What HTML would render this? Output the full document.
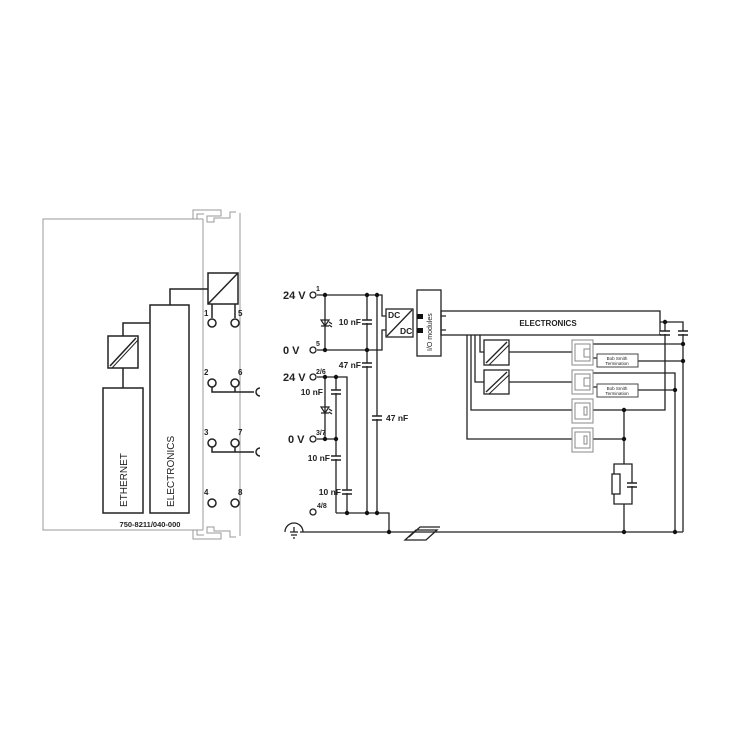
<!DOCTYPE html>
<html><head><meta charset="utf-8"><style>
html,body{margin:0;padding:0;background:#fff;}
svg{display:block;font-family:"Liberation Sans",sans-serif;}
.t{font-weight:bold;fill:#222;}
</style></head><body>
<svg width="750" height="750" viewBox="0 0 750 750" xmlns="http://www.w3.org/2000/svg">
<g fill="none" stroke="#999" stroke-width="1">
<path d="M203 219 H43 V530 H203"/>
<path d="M203 219 V530 M240 213 V536"/>
<path d="M193 219 V210 H221 V216 H207 V222 M197 219 V214 H204"/>
<path d="M207 216 V222 H214 V218 H230 V212 H236"/>
<path d="M193 530 V539 H221 V533 H207 V527 M197 530 V535 H204"/>
<path d="M207 533 V527 H214 V531 H230 V537 H236"/>
</g>
<g fill="none" stroke="#222" stroke-width="1.5">
<rect x="208" y="273" width="30" height="31"/>
<line x1="208" y1="304" x2="238" y2="273"/>
<rect x="150" y="305" width="39" height="208"/>
<rect x="103" y="388" width="40" height="125"/>
<rect x="108" y="336" width="30" height="32"/>
<line x1="110" y1="366" x2="136" y2="338"/><line x1="112" y1="368" x2="138" y2="340" stroke-width="1"/>
<path d="M123 368 V388 M123 336 V323 H150 M170 305 V289 H208 M212 304 V318 M235 304 V318"/>
<circle cx="212" cy="323" r="4"/><circle cx="235" cy="323" r="4"/>
<circle cx="212" cy="383" r="4"/><circle cx="235" cy="383" r="4"/>
<circle cx="212" cy="443" r="4"/><circle cx="235" cy="443" r="4"/>
<circle cx="212" cy="503" r="4"/><circle cx="235" cy="503" r="4"/>
<path d="M212 387 V392 H254 M235 387 V392 M212 447 V452 H254 M235 447 V452"/>
<path d="M260 388 A4 4 0 0 0 260 396 M260 448 A4 4 0 0 0 260 456"/>
</g>
<g class="t" font-size="8">
<text x="204" y="316">1</text><text x="238" y="316">5</text>
<text x="204" y="375">2</text><text x="238" y="375">6</text>
<text x="204" y="435">3</text><text x="238" y="435">7</text>
<text x="204" y="495">4</text><text x="238" y="495">8</text>
<text x="150" y="527" text-anchor="middle" font-size="7.5">750-8211/040-000</text>
<text transform="translate(127,507) rotate(-90)" font-size="10" font-weight="normal">ETHERNET</text>
<text transform="translate(174,507) rotate(-90)" font-size="10" font-weight="normal">ELECTRONICS</text>
</g>

<g fill="none" stroke="#222" stroke-width="1.3">
<path d="M317 295 H382 V316 H386 M317 350 H382 V330 H386"/>
<path d="M325 295 V350 M367 295 V513 M377 295 V513"/>
<path d="M317 377 H347 V513 M325 377 V439 M317 439 H336 M336 377 V513 M336 513 H389 V532"/>
<path d="M300 532 H683"/>
<rect x="386" y="309" width="27" height="28"/>
<line x1="387" y1="336" x2="412" y2="310"/>
<rect x="417" y="290" width="24" height="66"/>
<rect x="441" y="311" width="219" height="24"/>
<path d="M441 316 H446 M441 330 H446"/>
<circle cx="313" cy="295" r="3"/><circle cx="313" cy="350" r="3"/>
<circle cx="313" cy="377" r="3"/><circle cx="313" cy="439" r="3"/>
<circle cx="313" cy="512" r="3"/>
<path d="M285 532 A9 9 0 0 1 303 532 M290 532 H298 M291 535 H297 M293 538 H295 M294 527 V532"/>
<path d="M405 540 L416 530 H437 L426 540 Z M409 537 L420 527 H440"/>
<path d="M480 335 V352 H484 M475 335 V382 H484 M471 335 V410 H572 M467 335 V439 H572"/>
<path d="M509 352 H572 M509 382 H572"/>
<path d="M593 344 H683 M638 361 H683 M593 373 H675 V532 M638 390 H675"/>
<path d="M593 410 H665 V322 M660 322 H683 V532"/>
<path d="M593 439 H624 M624 410 V464 M614 464 H632 V504 H614 Z M624 504 V532"/>
<path d="M593 358 H597 M593 387 H597"/>
</g>
<g fill="none" stroke="#222" stroke-width="1.3">
<rect x="484" y="340" width="25" height="25"/><line x1="486" y1="363" x2="507" y2="342"/><line x1="489" y1="365" x2="509" y2="345" stroke-width="1"/>
<rect x="484" y="370" width="25" height="24"/><line x1="486" y1="392" x2="507" y2="372"/><line x1="489" y1="394" x2="509" y2="375" stroke-width="1"/>
<rect x="612" y="474" width="8" height="20" fill="#fff"/>
</g>
<g fill="#fff" stroke="#888" stroke-width="1">
<rect x="572" y="340" width="21" height="25"/><rect x="575" y="344" width="15" height="17"/><rect x="584" y="349" width="6" height="8"/>
<rect x="572" y="370" width="21" height="24"/><rect x="575" y="374" width="15" height="16"/><rect x="584" y="378" width="6" height="8"/>
<rect x="572" y="399" width="21" height="24"/><rect x="575" y="403" width="15" height="16"/><rect x="584" y="407" width="3" height="8"/>
<rect x="572" y="428" width="21" height="24"/><rect x="575" y="432" width="15" height="16"/><rect x="584" y="436" width="3" height="8"/>
<rect x="597" y="354" width="41" height="13" stroke="#444"/>
<rect x="597" y="384" width="41" height="13" stroke="#444"/>
</g>
<g stroke="#222" stroke-width="1.5" fill="#fff">
<rect x="362" y="320" width="10" height="3" stroke="none"/><path d="M362 320 H372 M362 324 H372"/>
<rect x="362" y="363" width="10" height="3" stroke="none"/><path d="M362 363 H372 M362 367 H372"/>
<rect x="372" y="416" width="10" height="3" stroke="none"/><path d="M372 416 H382 M372 420 H382"/>
<rect x="331" y="390" width="10" height="3" stroke="none"/><path d="M331 390 H341 M331 394 H341"/>
<rect x="331" y="456" width="10" height="3" stroke="none"/><path d="M331 456 H341 M331 460 H341"/>
<rect x="342" y="490" width="10" height="3" stroke="none"/><path d="M342 490 H352 M342 494 H352"/>
<rect x="660" y="331" width="10" height="3" stroke="none"/><path d="M660 331 H670 M660 335 H670"/>
<rect x="678" y="331" width="10" height="3" stroke="none"/><path d="M678 331 H688 M678 335 H688"/>
<rect x="627" y="483" width="10" height="3" stroke="none"/><path d="M627 483 H637 M627 487 H637"/>
</g>
<g fill="none" stroke="#222" stroke-width="1.2">
<path d="M321 320 H329 L325 326 Z M321 326 H329 M329 322 L332 324 M329 325 L332 327"/>
<path d="M321 407 H329 L325 413 Z M321 413 H329 M329 409 L332 411 M329 412 L332 414"/>
</g>
<rect x="417" y="314" width="6" height="5" fill="#111"/><rect x="417" y="328" width="6" height="5" fill="#111"/>
<g fill="#111">
<circle cx="325" cy="295" r="2.2"/><circle cx="367" cy="295" r="2.2"/><circle cx="377" cy="295" r="2.2"/>
<circle cx="325" cy="350" r="2.2"/><circle cx="367" cy="350" r="2.2"/>
<circle cx="325" cy="377" r="2.2"/><circle cx="336" cy="377" r="2.2"/>
<circle cx="325" cy="439" r="2.2"/><circle cx="336" cy="439" r="2.2"/>
<circle cx="347" cy="513" r="2.2"/><circle cx="367" cy="513" r="2.2"/><circle cx="377" cy="513" r="2.2"/>
<circle cx="389" cy="532" r="2.2"/>
<circle cx="665" cy="322" r="2.2"/><circle cx="683" cy="344" r="2.2"/><circle cx="683" cy="361" r="2.2"/>
<circle cx="675" cy="390" r="2.2"/><circle cx="624" cy="410" r="2.2"/><circle cx="624" cy="439" r="2.2"/>
<circle cx="624" cy="532" r="2.2"/><circle cx="675" cy="532" r="2.2"/>
</g>
<g class="t">
<text x="283" y="299" font-size="11">24 V</text>
<text x="283" y="354" font-size="11">0 V</text>
<text x="283" y="381" font-size="11">24 V</text>
<text x="288" y="443" font-size="11">0 V</text>
<text x="316" y="291" font-size="7">1</text>
<text x="316" y="346" font-size="7">5</text>
<text x="316" y="374" font-size="7">2/6</text>
<text x="316" y="435" font-size="7">3/7</text>
<text x="317" y="508" font-size="7">4/8</text>
<g text-anchor="end" font-size="8.5">
<text x="361" y="325">10 nF</text>
<text x="361" y="368">47 nF</text>
<text x="323" y="395">10 nF</text>
<text x="330" y="461">10 nF</text>
<text x="341" y="495">10 nF</text>
</g>
<text x="386" y="421" font-size="8.5">47 nF</text>
<text x="388" y="318" font-size="8.5">DC</text>
<text x="400" y="334" font-size="8.5">DC</text>
<text transform="translate(432,351) rotate(-90)" font-size="7" font-weight="normal">I/O modules</text>
<text x="548" y="326" font-size="8" text-anchor="middle">ELECTRONICS</text>
<text x="617" y="360" font-size="4.5" text-anchor="middle" font-weight="normal">Bob Smith</text>
<text x="617" y="365" font-size="4.5" text-anchor="middle" font-weight="normal">Termination</text>
<text x="617" y="390" font-size="4.5" text-anchor="middle" font-weight="normal">Bob Smith</text>
<text x="617" y="395" font-size="4.5" text-anchor="middle" font-weight="normal">Termination</text>
</g>
</svg>
</body></html>
